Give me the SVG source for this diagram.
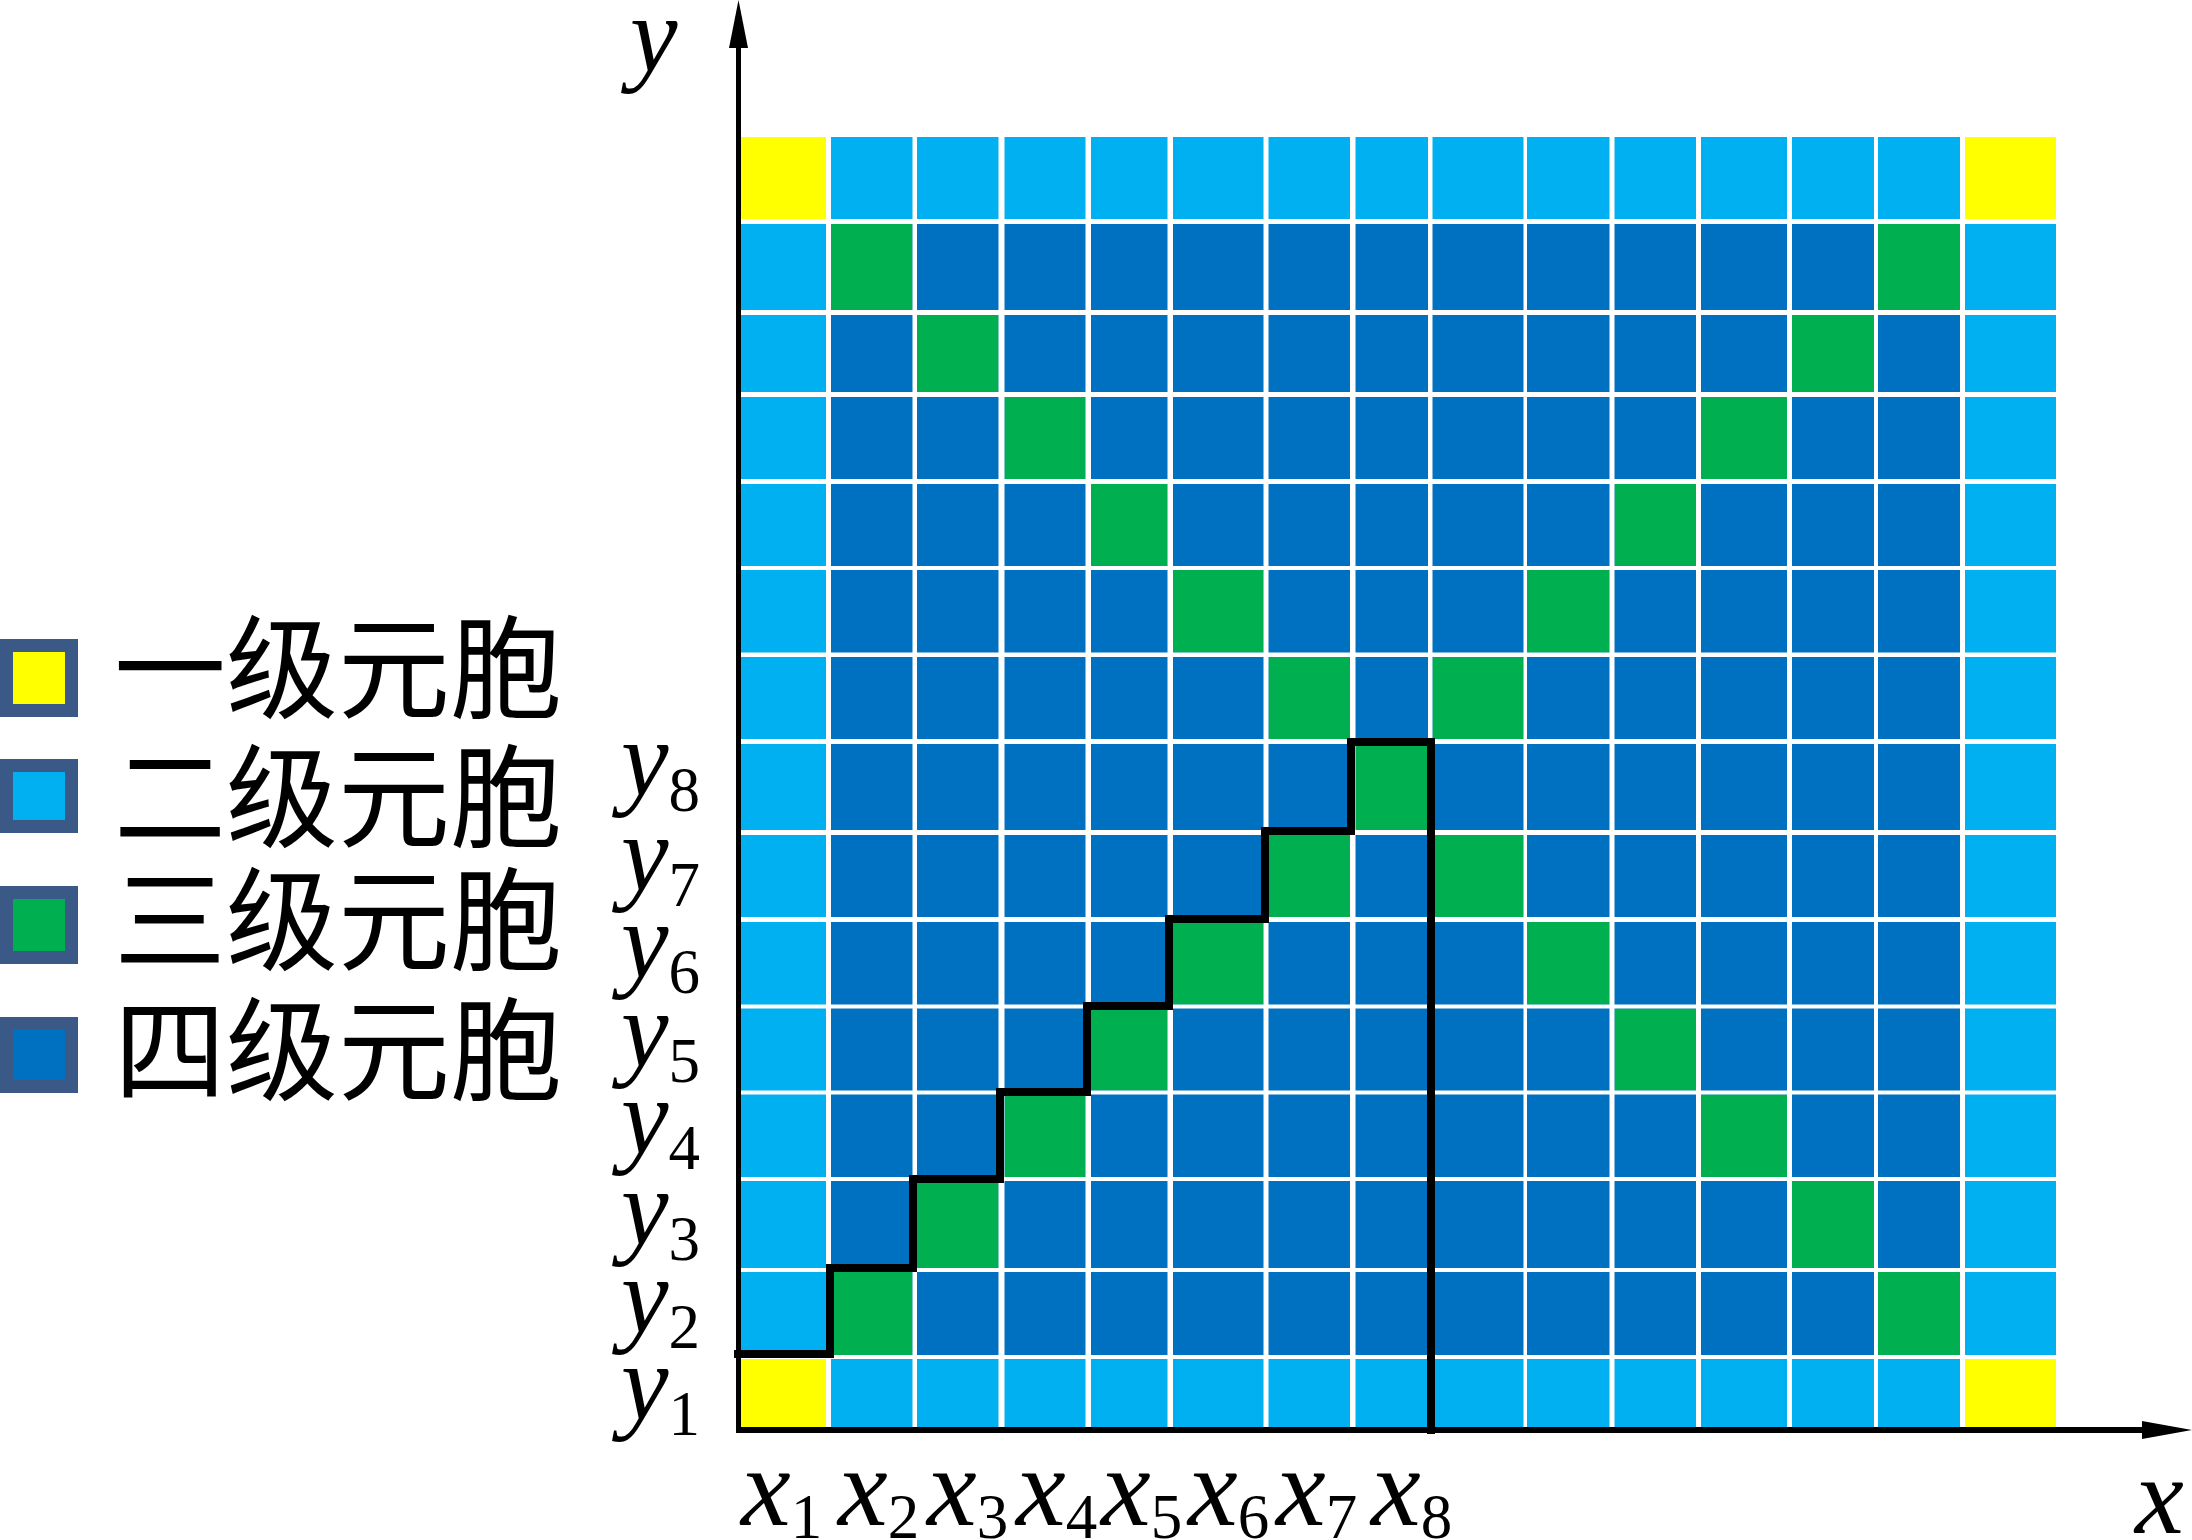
<svg xmlns="http://www.w3.org/2000/svg" width="2192" height="1540" viewBox="0 0 2192 1540">
<defs>
<style>
.y{fill:#FFFF00}.lb{fill:#00B0F0}.g{fill:#00B050}.db{fill:#0070C0}.w{fill:#FFFFFF}
.lg{stroke:#3B5987;stroke-width:13}
.cn{font-family:"Noto Sans CJK SC","Noto Sans CJK TC",sans-serif;font-size:112px;fill:#000}
.m{font-family:"Liberation Serif","Times New Roman",serif;font-style:italic;fill:#000}
.xl{font-size:112px}
.yl{font-size:107px}
.s{font-style:normal;font-size:63px}
.ax{stroke:#000;fill:none}
.step{stroke:#000;stroke-width:8;fill:none;stroke-linejoin:miter;stroke-linecap:square}
</style>
</defs>
<rect width="2192" height="1540" fill="#fff"/>
<g id="grid">
<rect class="lb" x="740" y="137" width="1316" height="1290"/>
<rect class="db" x="831" y="224" width="1129" height="1131"/>
<rect class="y" x="740" y="137" width="86" height="82"/>
<rect class="y" x="1965" y="137" width="91" height="82"/>
<rect class="y" x="740" y="1359" width="86" height="68"/>
<rect class="y" x="1965" y="1359" width="91" height="68"/>
<g id="third-level-cells">
<rect class="g" x="831" y="224" width="81.5" height="86"/>
<rect class="g" x="1878" y="224" width="82" height="86"/>
<rect class="g" x="917" y="315" width="81.5" height="77"/>
<rect class="g" x="1792" y="315" width="82" height="77"/>
<rect class="g" x="1004.5" y="397" width="81" height="82"/>
<rect class="g" x="1701" y="397" width="86" height="82"/>
<rect class="g" x="1091" y="484" width="76.5" height="82"/>
<rect class="g" x="1614.5" y="484" width="81.5" height="82"/>
<rect class="g" x="1173" y="570" width="90.5" height="82.5"/>
<rect class="g" x="1527" y="570" width="82.5" height="82.5"/>
<rect class="g" x="1268.5" y="657" width="81.5" height="82"/>
<rect class="g" x="1432.5" y="657" width="91" height="82"/>
<rect class="g" x="1355.5" y="744" width="72.5" height="86"/>
<rect class="g" x="1268.5" y="835" width="81.5" height="82"/>
<rect class="g" x="1432.5" y="835" width="91" height="82"/>
<rect class="g" x="1173" y="922" width="90.5" height="82.5"/>
<rect class="g" x="1527" y="922" width="82.5" height="82.5"/>
<rect class="g" x="1091" y="1008.5" width="76.5" height="82"/>
<rect class="g" x="1614.5" y="1008.5" width="81.5" height="82"/>
<rect class="g" x="1004.5" y="1094.5" width="81" height="82.5"/>
<rect class="g" x="1701" y="1094.5" width="86" height="82.5"/>
<rect class="g" x="917" y="1181" width="81.5" height="87"/>
<rect class="g" x="1792" y="1181" width="82" height="87"/>
<rect class="g" x="831" y="1272" width="81.5" height="83"/>
<rect class="g" x="1878" y="1272" width="82" height="83"/>
</g>
<g id="gaps">
<rect class="w" x="826" y="137" width="5" height="1290"/>
<rect class="w" x="912.5" y="137" width="4.5" height="1290"/>
<rect class="w" x="998.5" y="137" width="6" height="1290"/>
<rect class="w" x="1085.5" y="137" width="5.5" height="1290"/>
<rect class="w" x="1167.5" y="137" width="5.5" height="1290"/>
<rect class="w" x="1263.5" y="137" width="5" height="1290"/>
<rect class="w" x="1350" y="137" width="5.5" height="1290"/>
<rect class="w" x="1428" y="137" width="4.5" height="1290"/>
<rect class="w" x="1523.5" y="137" width="3.5" height="1290"/>
<rect class="w" x="1609.5" y="137" width="5" height="1290"/>
<rect class="w" x="1696" y="137" width="5" height="1290"/>
<rect class="w" x="1787" y="137" width="5" height="1290"/>
<rect class="w" x="1874" y="137" width="4" height="1290"/>
<rect class="w" x="1960" y="137" width="5" height="1290"/>
<rect class="w" x="740" y="219" width="1316" height="5"/>
<rect class="w" x="740" y="310" width="1316" height="5"/>
<rect class="w" x="740" y="392" width="1316" height="5"/>
<rect class="w" x="740" y="479" width="1316" height="5"/>
<rect class="w" x="740" y="566" width="1316" height="4"/>
<rect class="w" x="740" y="652.5" width="1316" height="4.5"/>
<rect class="w" x="740" y="739" width="1316" height="5"/>
<rect class="w" x="740" y="830" width="1316" height="5"/>
<rect class="w" x="740" y="917" width="1316" height="5"/>
<rect class="w" x="740" y="1004.5" width="1316" height="4"/>
<rect class="w" x="740" y="1090.5" width="1316" height="4"/>
<rect class="w" x="740" y="1177" width="1316" height="4"/>
<rect class="w" x="740" y="1268" width="1316" height="4"/>
<rect class="w" x="740" y="1355" width="1316" height="4"/>
</g>
</g>
<g id="connectors">
<path class="step" d="M 738 1354 H 830 V 1268 H 913 V 1179 H 1000 V 1092 H 1087 V 1006 H 1169 V 919 H 1265 V 831 H 1351 V 742 H 1431 V 1430"/>
<line class="ax" x1="738.5" y1="1433" x2="738.5" y2="45" stroke-width="5"/>
<polygon points="738.5,0 729,48 748,48" fill="#000"/>
<line class="ax" x1="736" y1="1430" x2="2145" y2="1430" stroke-width="6"/>
<polygon points="2192,1430 2142,1421 2142,1439" fill="#000"/>
</g>
<g id="axis-labels">
<text class="m yl" x="630" y="71">y</text>
<text class="m" x="2135" y="1533" font-size="110">x</text>
</g>
<g id="y-labels">
<text class="m yl" x="621" y="795">y<tspan class="s" dy="16">8</tspan></text>
<text class="m yl" x="621" y="890">y<tspan class="s" dy="16">7</tspan></text>
<text class="m yl" x="621" y="977">y<tspan class="s" dy="16">6</tspan></text>
<text class="m yl" x="621" y="1066">y<tspan class="s" dy="16">5</tspan></text>
<text class="m yl" x="621" y="1153">y<tspan class="s" dy="16">4</tspan></text>
<text class="m yl" x="621" y="1244">y<tspan class="s" dy="16">3</tspan></text>
<text class="m yl" x="621" y="1332">y<tspan class="s" dy="16">2</tspan></text>
<text class="m yl" x="621" y="1419">y<tspan class="s" dy="16">1</tspan></text>
</g>
<g id="x-labels">
<text class="m xl" x="741" y="1525">x<tspan class="s" dy="13">1</tspan></text>
<text class="m xl" x="838" y="1525">x<tspan class="s" dy="13">2</tspan></text>
<text class="m xl" x="927" y="1525">x<tspan class="s" dy="13">3</tspan></text>
<text class="m xl" x="1016" y="1525">x<tspan class="s" dy="13">4</tspan></text>
<text class="m xl" x="1101" y="1525">x<tspan class="s" dy="13">5</tspan></text>
<text class="m xl" x="1188" y="1525">x<tspan class="s" dy="13">6</tspan></text>
<text class="m xl" x="1276" y="1525">x<tspan class="s" dy="13">7</tspan></text>
<text class="m xl" x="1371" y="1525">x<tspan class="s" dy="13">8</tspan></text>
</g>
<g id="legend-1"><rect class="lg y" x="6.5" y="645.5" width="65" height="65"/><text class="cn" x="114" y="710">一级元胞</text></g>
<g id="legend-2"><rect class="lg lb" x="6.5" y="765.5" width="65" height="61"/><text class="cn" x="114" y="839">二级元胞</text></g>
<g id="legend-3"><rect class="lg g" x="6.5" y="892.5" width="65" height="65"/><text class="cn" x="114" y="962">三级元胞</text></g>
<g id="legend-4"><rect class="lg db" x="6.5" y="1023.5" width="65" height="63"/><text class="cn" x="114" y="1092">四级元胞</text></g>
</svg>
